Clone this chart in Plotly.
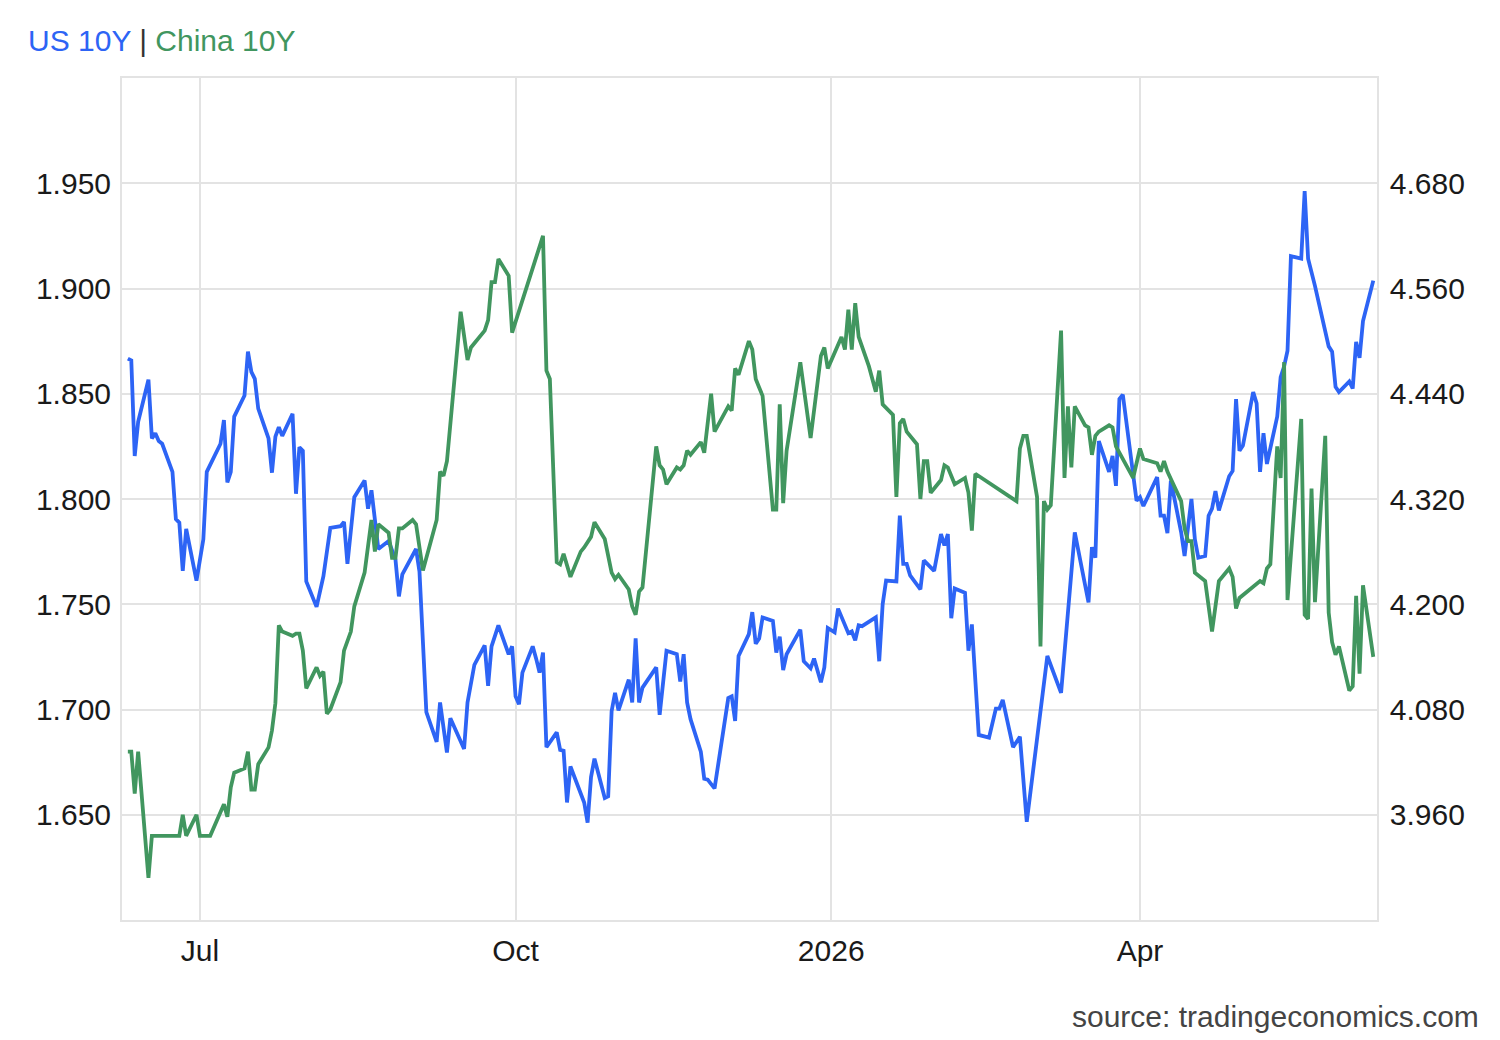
import plotly.graph_objects as go

# ---------------- data ----------------
us_dates = [
    "2025-06-10", "2025-06-11", "2025-06-12", "2025-06-13", "2025-06-16", "2025-06-17", "2025-06-18", "2025-06-19", "2025-06-20",
    "2025-06-23", "2025-06-24", "2025-06-25", "2025-06-26", "2025-06-27", "2025-06-30",
    "2025-07-02", "2025-07-03", "2025-07-07", "2025-07-08", "2025-07-09", "2025-07-10", "2025-07-11",
    "2025-07-14", "2025-07-15", "2025-07-16", "2025-07-17", "2025-07-18", "2025-07-21", "2025-07-22",
    "2025-07-23", "2025-07-24", "2025-07-25", "2025-07-28", "2025-07-29", "2025-07-30", "2025-07-31",
    "2025-08-01", "2025-08-04", "2025-08-06", "2025-08-08", "2025-08-11", "2025-08-12", "2025-08-13",
    "2025-08-15", "2025-08-18", "2025-08-19", "2025-08-20", "2025-08-21", "2025-08-22", "2025-08-25",
    "2025-08-27", "2025-08-28", "2025-08-29",
    "2025-09-02", "2025-09-03", "2025-09-05", "2025-09-08", "2025-09-09", "2025-09-11", "2025-09-12",
    "2025-09-16", "2025-09-17", "2025-09-19", "2025-09-22", "2025-09-23", "2025-09-24", "2025-09-26",
    "2025-09-29", "2025-09-30",
    "2025-10-01", "2025-10-02", "2025-10-03", "2025-10-06", "2025-10-07", "2025-10-08", "2025-10-09",
    "2025-10-10", "2025-10-13", "2025-10-14", "2025-10-15", "2025-10-16", "2025-10-17", "2025-10-21",
    "2025-10-22", "2025-10-23", "2025-10-24", "2025-10-27", "2025-10-28", "2025-10-29", "2025-10-30",
    "2025-10-31",
    "2025-11-03", "2025-11-04", "2025-11-05", "2025-11-06", "2025-11-07", "2025-11-11", "2025-11-12",
    "2025-11-14", "2025-11-17", "2025-11-18", "2025-11-19", "2025-11-20", "2025-11-21", "2025-11-24",
    "2025-11-25", "2025-11-26", "2025-11-28",
    "2025-12-02", "2025-12-03", "2025-12-04", "2025-12-05", "2025-12-08", "2025-12-09", "2025-12-10",
    "2025-12-11", "2025-12-12", "2025-12-15", "2025-12-16", "2025-12-17", "2025-12-18", "2025-12-19",
    "2025-12-23", "2025-12-24", "2025-12-26", "2025-12-27", "2025-12-29", "2025-12-30", "2025-12-31",
    "2026-01-02", "2026-01-03", "2026-01-06", "2026-01-07", "2026-01-08", "2026-01-09", "2026-01-10",
    "2026-01-14", "2026-01-15", "2026-01-16", "2026-01-17", "2026-01-20", "2026-01-21", "2026-01-22",
    "2026-01-23", "2026-01-24", "2026-01-27", "2026-01-28", "2026-01-31",
    "2026-02-02", "2026-02-03", "2026-02-04", "2026-02-05", "2026-02-06", "2026-02-09", "2026-02-10",
    "2026-02-11", "2026-02-13", "2026-02-16", "2026-02-18", "2026-02-19", "2026-02-20", "2026-02-23",
    "2026-02-25", "2026-02-27",
    "2026-03-05", "2026-03-09", "2026-03-12", "2026-03-13", "2026-03-17", "2026-03-18", "2026-03-19",
    "2026-03-20", "2026-03-23", "2026-03-24", "2026-03-25", "2026-03-26", "2026-03-27", "2026-03-31",
    "2026-04-01", "2026-04-02", "2026-04-06", "2026-04-07", "2026-04-08", "2026-04-09", "2026-04-10",
    "2026-04-13", "2026-04-14", "2026-04-15", "2026-04-16", "2026-04-17", "2026-04-18", "2026-04-20",
    "2026-04-21", "2026-04-22", "2026-04-23", "2026-04-24", "2026-04-27", "2026-04-28", "2026-04-29",
    "2026-04-30",
    "2026-05-01", "2026-05-04", "2026-05-05", "2026-05-06", "2026-05-07", "2026-05-08", "2026-05-11",
    "2026-05-12", "2026-05-13", "2026-05-14", "2026-05-15", "2026-05-18", "2026-05-19", "2026-05-20",
    "2026-05-21", "2026-05-22", "2026-05-26", "2026-05-27", "2026-05-28", "2026-05-29",
    "2026-06-01", "2026-06-02", "2026-06-03", "2026-06-04", "2026-06-05", "2026-06-08",
]
us_values = [
    4.480, 4.478, 4.369, 4.408, 4.456, 4.389, 4.395, 4.386, 4.383,
    4.351, 4.297, 4.293, 4.238, 4.286, 4.227,
    4.274, 4.351, 4.383, 4.410, 4.339, 4.351, 4.414,
    4.438, 4.488, 4.465, 4.457, 4.423, 4.389, 4.350,
    4.391, 4.402, 4.392, 4.417, 4.326, 4.379, 4.375,
    4.226, 4.197, 4.232, 4.287, 4.289, 4.294, 4.246,
    4.322, 4.341, 4.309, 4.330, 4.297, 4.263, 4.272,
    4.251, 4.209, 4.234,
    4.263, 4.237, 4.077, 4.043, 4.088, 4.031, 4.070,
    4.035, 4.088, 4.131, 4.153, 4.107, 4.152, 4.176,
    4.143, 4.152,
    4.095, 4.086, 4.122, 4.152, 4.138, 4.122, 4.145,
    4.037, 4.054, 4.034, 4.033, 3.974, 4.015, 3.974,
    3.951, 4.003, 4.024, 3.979, 3.981, 4.078, 4.099,
    4.079,
    4.114, 4.088, 4.161, 4.088, 4.105, 4.128, 4.074,
    4.147, 4.143, 4.112, 4.143, 4.088, 4.069, 4.032,
    4.001, 4.000, 3.990,
    4.093, 4.095, 4.067, 4.141, 4.166, 4.191, 4.155,
    4.161, 4.185, 4.181, 4.145, 4.163, 4.125, 4.143,
    4.171, 4.135, 4.127, 4.138, 4.111, 4.128, 4.173,
    4.168, 4.195, 4.167, 4.169, 4.159, 4.176, 4.175,
    4.185, 4.135, 4.200, 4.227, 4.226, 4.301, 4.246,
    4.246, 4.233, 4.217, 4.250, 4.238,
    4.280, 4.267, 4.280, 4.184, 4.218, 4.213, 4.147,
    4.177, 4.051, 4.048, 4.081, 4.081, 4.091, 4.037,
    4.049, 3.952,
    4.141, 4.099, 4.232, 4.282, 4.202, 4.265, 4.253,
    4.386, 4.351, 4.369, 4.335, 4.434, 4.439, 4.318,
    4.322, 4.312, 4.345, 4.301, 4.301, 4.281, 4.341,
    4.282, 4.255, 4.286, 4.320, 4.274, 4.253, 4.255,
    4.301, 4.309, 4.329, 4.307, 4.346, 4.352, 4.434,
    4.375,
    4.381, 4.442, 4.429, 4.351, 4.395, 4.360, 4.414,
    4.459, 4.471, 4.489, 4.597, 4.594, 4.671, 4.594,
    4.576, 4.563, 4.494, 4.488, 4.448, 4.442,
    4.454, 4.446, 4.499, 4.481, 4.523, 4.569,
]

cn_dates = [
    "2025-06-10", "2025-06-11", "2025-06-12", "2025-06-13", "2025-06-16", "2025-06-17", "2025-06-25",
    "2025-06-26", "2025-06-27", "2025-06-30",
    "2025-07-01", "2025-07-04", "2025-07-08", "2025-07-09", "2025-07-10", "2025-07-11", "2025-07-14",
    "2025-07-15", "2025-07-16", "2025-07-17", "2025-07-18", "2025-07-21", "2025-07-22", "2025-07-23",
    "2025-07-24", "2025-07-25", "2025-07-28", "2025-07-29", "2025-07-30", "2025-07-31",
    "2025-08-01", "2025-08-04", "2025-08-05", "2025-08-06", "2025-08-07", "2025-08-08", "2025-08-11",
    "2025-08-12", "2025-08-14", "2025-08-15", "2025-08-18", "2025-08-20", "2025-08-21", "2025-08-22",
    "2025-08-25", "2025-08-26", "2025-08-27", "2025-08-28", "2025-08-29",
    "2025-09-01", "2025-09-02", "2025-09-04", "2025-09-08", "2025-09-09", "2025-09-10", "2025-09-11",
    "2025-09-15", "2025-09-17", "2025-09-18", "2025-09-22", "2025-09-23", "2025-09-24", "2025-09-25",
    "2025-09-26", "2025-09-29", "2025-09-30",
    "2025-10-09", "2025-10-10", "2025-10-11", "2025-10-13", "2025-10-14", "2025-10-15", "2025-10-17",
    "2025-10-20", "2025-10-21", "2025-10-23", "2025-10-24", "2025-10-27", "2025-10-29", "2025-10-30",
    "2025-10-31",
    "2025-11-03", "2025-11-04", "2025-11-05", "2025-11-06", "2025-11-07", "2025-11-11", "2025-11-12",
    "2025-11-13", "2025-11-14", "2025-11-17", "2025-11-18", "2025-11-19", "2025-11-20", "2025-11-21",
    "2025-11-24", "2025-11-25", "2025-11-27", "2025-11-28",
    "2025-12-02", "2025-12-03", "2025-12-04", "2025-12-05", "2025-12-08", "2025-12-09", "2025-12-10",
    "2025-12-11", "2025-12-12", "2025-12-15", "2025-12-16", "2025-12-17", "2025-12-18", "2025-12-19",
    "2025-12-23", "2025-12-26", "2025-12-29", "2025-12-30", "2025-12-31",
    "2026-01-04", "2026-01-05", "2026-01-06", "2026-01-07", "2026-01-08", "2026-01-09", "2026-01-12",
    "2026-01-14", "2026-01-15", "2026-01-16", "2026-01-19", "2026-01-20", "2026-01-21", "2026-01-22",
    "2026-01-23", "2026-01-26", "2026-01-27", "2026-01-28", "2026-01-29", "2026-01-30",
    "2026-02-02", "2026-02-03", "2026-02-04", "2026-02-06", "2026-02-09", "2026-02-10", "2026-02-11",
    "2026-02-12", "2026-02-24", "2026-02-25", "2026-02-26", "2026-02-27",
    "2026-03-02", "2026-03-03", "2026-03-04", "2026-03-05", "2026-03-06", "2026-03-09", "2026-03-10",
    "2026-03-11", "2026-03-12", "2026-03-13", "2026-03-16", "2026-03-17", "2026-03-18", "2026-03-19",
    "2026-03-20", "2026-03-23", "2026-03-24", "2026-03-25", "2026-03-30",
    "2026-04-01", "2026-04-02", "2026-04-06", "2026-04-07", "2026-04-08", "2026-04-09", "2026-04-13",
    "2026-04-14", "2026-04-15", "2026-04-16", "2026-04-17", "2026-04-20", "2026-04-22", "2026-04-24",
    "2026-04-27", "2026-04-28", "2026-04-29", "2026-04-30",
    "2026-05-06", "2026-05-07", "2026-05-08", "2026-05-09", "2026-05-11", "2026-05-12", "2026-05-13",
    "2026-05-14", "2026-05-18", "2026-05-19", "2026-05-20", "2026-05-21", "2026-05-22", "2026-05-25",
    "2026-05-26", "2026-05-27", "2026-05-28", "2026-05-29",
    "2026-06-01", "2026-06-02", "2026-06-03", "2026-06-04", "2026-06-05", "2026-06-08",
]
cn_values = [
    1.680, 1.680, 1.660, 1.680, 1.620, 1.640, 1.640,
    1.650, 1.640, 1.650,
    1.640, 1.640, 1.655, 1.649, 1.663, 1.670, 1.672,
    1.680, 1.662, 1.662, 1.674, 1.682, 1.690, 1.703,
    1.740, 1.737, 1.735, 1.736, 1.736, 1.728,
    1.710, 1.720, 1.716, 1.718, 1.698, 1.700, 1.713,
    1.728, 1.737, 1.749, 1.765, 1.790, 1.775, 1.788,
    1.784, 1.772, 1.772, 1.786, 1.786,
    1.790, 1.788, 1.766, 1.790, 1.813, 1.811, 1.818,
    1.889, 1.866, 1.872, 1.880, 1.885, 1.903, 1.903,
    1.914, 1.906, 1.879,
    1.925, 1.861, 1.857, 1.770, 1.769, 1.774, 1.763,
    1.775, 1.777, 1.782, 1.789, 1.781, 1.765, 1.762,
    1.764,
    1.757, 1.749, 1.745, 1.756, 1.758, 1.825, 1.816,
    1.814, 1.807, 1.815, 1.814, 1.816, 1.823, 1.821,
    1.827, 1.822, 1.850, 1.832,
    1.844, 1.842, 1.862, 1.859, 1.875, 1.871, 1.857,
    1.853, 1.849, 1.795, 1.795, 1.845, 1.798, 1.823,
    1.865, 1.829, 1.868, 1.872, 1.862,
    1.877, 1.871, 1.890, 1.871, 1.893, 1.877, 1.863,
    1.851, 1.861, 1.845, 1.840, 1.801, 1.836, 1.838,
    1.832, 1.826, 1.800, 1.818, 1.818, 1.803,
    1.809, 1.816, 1.815, 1.807, 1.810, 1.803, 1.785,
    1.812, 1.799, 1.824, 1.830, 1.830,
    1.801, 1.730, 1.799, 1.795, 1.797, 1.880, 1.810,
    1.844, 1.815, 1.844, 1.835, 1.834, 1.821, 1.830,
    1.832, 1.835, 1.834, 1.825, 1.810,
    1.824, 1.819, 1.817, 1.813, 1.818, 1.813, 1.799,
    1.786, 1.780, 1.780, 1.765, 1.761, 1.737, 1.761,
    1.767, 1.763, 1.748, 1.753,
    1.761, 1.760, 1.767, 1.769, 1.825, 1.810, 1.865,
    1.752, 1.838, 1.745, 1.743, 1.805, 1.751, 1.830,
    1.746, 1.732, 1.726, 1.730,
    1.709, 1.711, 1.754, 1.717, 1.759, 1.725,
]

x_tick_dates = ["2025-07-01", "2025-10-01", "2026-01-01", "2026-04-01"]
x_tick_labels = ["Jul", "Oct", "2026", "Apr"]
cn_ticks = [1.650, 1.700, 1.750, 1.800, 1.850, 1.900, 1.950]
us_ticks = [3.960, 4.080, 4.200, 4.320, 4.440, 4.560, 4.680]

assert len(us_dates) == len(us_values)
assert len(cn_dates) == len(cn_values)

# ---------------- style ----------------
BLUE = "#2d64f5"
GREEN = "#41965f"
GRID = "#e3e3e3"
FONT = "Liberation Sans, Arial, sans-serif"
TICK_FONT = dict(family=FONT, size=30, color="#1a1a1a")

fig = go.Figure()
fig.add_trace(go.Scatter(x=us_dates, y=us_values, mode="lines", name="US 10Y",
                         line=dict(color=BLUE, width=3.8), yaxis="y"))
fig.add_trace(go.Scatter(x=cn_dates, y=cn_values, mode="lines", name="China 10Y",
                         line=dict(color=GREEN, width=3.8), yaxis="y2"))

fig.update_layout(
    width=1500, height=1040,
    margin=dict(l=122, r=123, t=78, b=120),
    paper_bgcolor="white", plot_bgcolor="white",
    showlegend=False,
    font=dict(family=FONT, size=30, color="#1a1a1a"),
    xaxis=dict(
        type="date",
        range=["2025-06-08 07:00", "2026-06-09 02:00"],
        tickvals=x_tick_dates, ticktext=x_tick_labels,
        showgrid=True, gridcolor=GRID, gridwidth=1.5,
        showline=True, linecolor=GRID, linewidth=1.5, mirror=True,
        ticks="", ticklabelstandoff=3,
        tickfont=TICK_FONT,
        zeroline=False,
    ),
    yaxis=dict(
        side="right",
        range=[3.84, 4.80],
        tickvals=us_ticks, tickformat=".3f",
        showgrid=True, gridcolor=GRID, gridwidth=1.5,
        showline=True, linecolor=GRID, linewidth=1.5, mirror=True,
        ticks="", ticklabelstandoff=5,
        tickfont=TICK_FONT,
        zeroline=False,
    ),
    yaxis2=dict(
        side="left", overlaying="y",
        range=[1.600, 2.000],
        tickvals=cn_ticks, tickformat=".3f",
        showgrid=False, showline=False,
        ticks="", ticklabelstandoff=10,
        tickfont=TICK_FONT,
        zeroline=False,
    ),
    annotations=[
        dict(xref="paper", yref="paper", x=-0.0765, y=1.045, xanchor="left", yanchor="middle",
             showarrow=False,
             text=f"<span style='color:{BLUE}'>US 10Y</span> <span style='color:#333333'>|</span> "
                  f"<span style='color:{GREEN}'>China 10Y</span>",
             font=dict(family=FONT, size=30)),
        dict(xref="paper", yref="paper", x=1.0829, y=-0.1152, xanchor="right", yanchor="middle",
             showarrow=False, text="source: tradingeconomics.com",
             font=dict(family=FONT, size=30, color="#444444")),
    ],
)

fig.write_html("out.html")
